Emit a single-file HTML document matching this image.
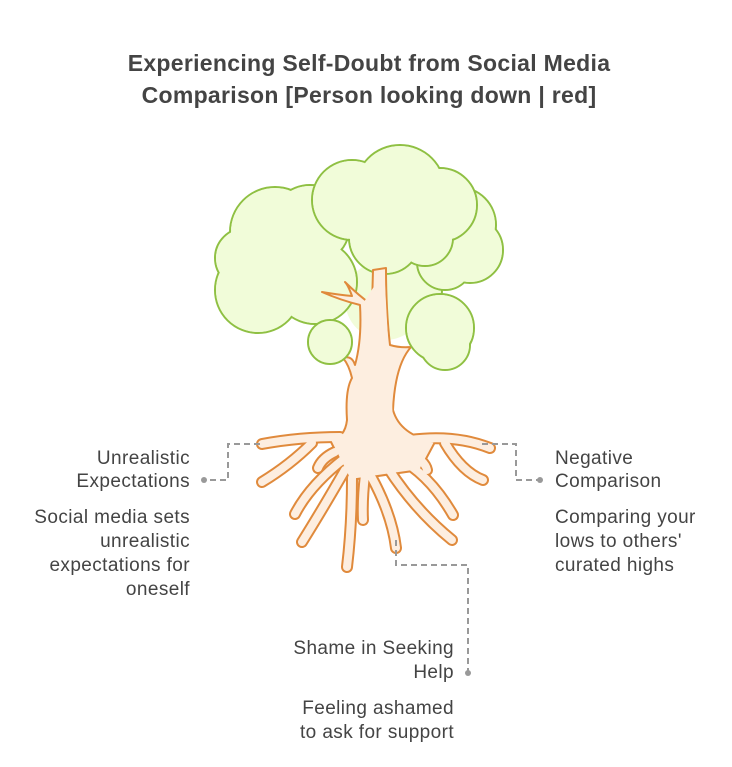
<!DOCTYPE html>
<html><head><meta charset="utf-8"><style>
body{margin:0;background:#fff;}
svg text{font-family:"Liberation Sans",sans-serif;fill:#444;}
</style></head><body>
<svg width="732" height="762" viewBox="0 0 732 762" xmlns="http://www.w3.org/2000/svg">
<rect width="732" height="762" fill="#fff"/>
<text x="369" y="71" font-size="23" font-weight="bold" text-anchor="middle" letter-spacing="0.3">Experiencing Self-Doubt from Social Media</text>
<text x="369" y="103" font-size="23" font-weight="bold" text-anchor="middle" letter-spacing="0.3">Comparison [Person looking down | red]</text>

<g stroke="#8fc043" stroke-width="2" fill="#f1fcd9">
 <g><circle cx="400" cy="290" r="42"/><circle cx="385" cy="300" r="40" stroke="none"/></g>
 <g><circle cx="458" cy="225" r="38"/><circle cx="470" cy="250" r="33"/><circle cx="445" cy="262" r="28"/>
  <circle cx="458" cy="225" r="37" stroke="none"/><circle cx="470" cy="250" r="32" stroke="none"/><circle cx="445" cy="262" r="27" stroke="none"/></g>
 <g><circle cx="275" cy="232" r="45"/><circle cx="258" cy="290" r="43"/><circle cx="310" cy="225" r="40"/><circle cx="315" cy="282" r="42"/><circle cx="245" cy="258" r="30"/>
  <circle cx="275" cy="232" r="44" stroke="none"/><circle cx="258" cy="290" r="42" stroke="none"/><circle cx="310" cy="225" r="39" stroke="none"/><circle cx="315" cy="282" r="41" stroke="none"/><circle cx="245" cy="258" r="29" stroke="none"/></g>
 <g><circle cx="352" cy="200" r="40"/><circle cx="400" cy="190" r="45"/><circle cx="440" cy="205" r="37"/><circle cx="385" cy="238" r="36"/><circle cx="425" cy="238" r="28"/>
  <circle cx="352" cy="200" r="39" stroke="none"/><circle cx="400" cy="190" r="44" stroke="none"/><circle cx="440" cy="205" r="36" stroke="none"/><circle cx="385" cy="238" r="35" stroke="none"/><circle cx="425" cy="238" r="27" stroke="none"/></g>
</g>

<g fill="none" stroke-linecap="round" stroke-linejoin="round">
 <g stroke="#e08a3c" stroke-width="12">
  <path d="M340 437 Q300 437 262 444"/>
  <path d="M312 443 Q290 465 262 482"/>
  <path d="M335 452 Q322 458 318 468"/>
  <path d="M345 458 Q310 485 295 514"/>
  <path d="M345 470 Q322 510 302 542"/>
  <path d="M352 478 Q352 525 347 567"/>
  <path d="M365 475 Q362 500 363 520"/>
  <path d="M372 478 Q392 515 396 548"/>
  <path d="M388 468 Q415 510 452 540"/>
  <path d="M398 458 Q430 475 453 515"/>
  <path d="M405 450 Q425 460 427 470"/>
  <path d="M410 440 Q455 434 490 448"/>
  <path d="M445 443 Q462 472 483 480"/>
 </g>
 <path d="M373 270 L386 268 Q386 310 390 345 Q400 348 411 347 Q395 365 393 410 Q400 435 435 442 L420 470 L350 480 L330 440 Q345 438 347 420 Q345 390 352 378 Q349 365 343 358 Q352 355 355 365 Q362 340 360 305 Q340 300 322 292 Q340 295 352 296 Q348 285 345 282 Q358 295 372 305 Z" fill="#fdeee0" stroke="#e08a3c" stroke-width="2"/>
 <g stroke="#fdeee0" stroke-width="8">
  <path d="M340 437 Q300 437 262 444"/>
  <path d="M312 443 Q290 465 262 482"/>
  <path d="M335 452 Q322 458 318 468"/>
  <path d="M345 458 Q310 485 295 514"/>
  <path d="M345 470 Q322 510 302 542"/>
  <path d="M352 478 Q352 525 347 567"/>
  <path d="M365 475 Q362 500 363 520"/>
  <path d="M372 478 Q392 515 396 548"/>
  <path d="M388 468 Q415 510 452 540"/>
  <path d="M398 458 Q430 475 453 515"/>
  <path d="M405 450 Q425 460 427 470"/>
  <path d="M410 440 Q455 434 490 448"/>
  <path d="M445 443 Q462 472 483 480"/>
 </g>
 <path d="M375 285 L385 285 L388 340 L393 420 Q400 440 430 442 L420 468 L352 478 L335 442 Q348 438 350 420 Q350 385 356 375 Q365 340 362 305 Z" fill="#fdeee0"/>
</g>

<g stroke="#8fc043" stroke-width="2" fill="#f1fcd9">
 <g><circle cx="330" cy="342" r="22"/><circle cx="330" cy="342" r="21" stroke="none"/></g>
 <g><circle cx="440" cy="328" r="34"/><circle cx="445" cy="345" r="25"/><circle cx="440" cy="328" r="33" stroke="none"/><circle cx="445" cy="345" r="24" stroke="none"/></g>
</g>

<g fill="none" stroke="#999" stroke-width="2" stroke-dasharray="6 4">
 <path d="M260 444 H228 V480 H205"/>
 <path d="M482 444 H516 V480 H540"/>
 <path d="M396 540 V565 H468 V673"/>
</g>
<g fill="#999"><circle cx="204" cy="480" r="3"/><circle cx="540" cy="480" r="3"/><circle cx="468" cy="673" r="3"/></g>

<g font-size="19" letter-spacing="0.4">
 <text x="190" y="464" text-anchor="end">Unrealistic</text>
 <text x="190" y="487" text-anchor="end">Expectations</text>
 <text x="190" y="523" text-anchor="end">Social media sets</text>
 <text x="190" y="547" text-anchor="end">unrealistic</text>
 <text x="190" y="571" text-anchor="end">expectations for</text>
 <text x="190" y="595" text-anchor="end">oneself</text>
 <text x="555" y="464">Negative</text>
 <text x="555" y="487">Comparison</text>
 <text x="555" y="523">Comparing your</text>
 <text x="555" y="547">lows to others'</text>
 <text x="555" y="571">curated highs</text>
 <text x="454" y="654" text-anchor="end">Shame in Seeking</text>
 <text x="454" y="678" text-anchor="end">Help</text>
 <text x="454" y="714" text-anchor="end">Feeling ashamed</text>
 <text x="454" y="738" text-anchor="end">to ask for support</text>
</g>
</svg>
</body></html>
